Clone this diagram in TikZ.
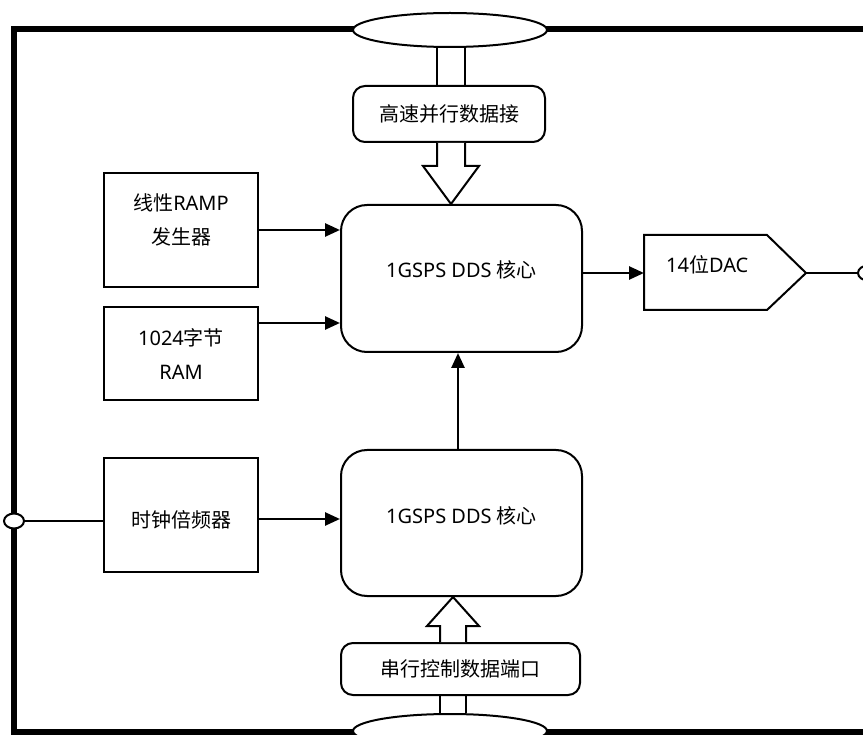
\documentclass[tikz,border=0pt]{standalone}
\usepackage{fontspec}
\setmainfont{Noto Sans}
\newfontfamily\cjkf{Noto Sans CJK SC}
\newcommand{\zh}[1]{{\cjkf #1}}
\usetikzlibrary{arrows.meta,shapes.geometric}
\tikzset{
  box/.style={draw, line width=2pt, fill=white, inner sep=0pt},
  rbox/.style={box, rounded corners=12pt},
  core/.style={box, rounded corners=26pt},
  lbl/.style={font=\fontsize{20}{34}\selectfont, align=center, inner sep=0pt},
  conn/.style={line width=2.6pt, -{Triangle[length=15pt,width=13pt]}},
  thin/.style={line width=2pt},
  frame/.style={line width=6pt},
  port/.style={draw, line width=2pt, fill=white, ellipse, inner sep=0pt},
  blockarrow/.style={line width=2pt, fill=white, line join=miter}
}
\begin{document}
\begin{tikzpicture}[x=1pt,y=-1pt]
\useasboundingbox (0,0) rectangle (863,735);
\begin{scope}
\clip (0,0) rectangle (863,735);
% frame
\draw[frame] (890,29.5) -- (14,29.5) -- (14,731.5) -- (890,731.5);
% ports
\node[port, minimum width=194pt, minimum height=34pt] (ptop) at (450,30) {};
\node[port, minimum width=194pt, minimum height=34pt] (pbot) at (450,731) {};
\node[port, minimum width=20pt, minimum height=15pt] (pleft) at (14,521) {};
\node[port, minimum width=20pt, minimum height=15pt] (pright) at (868,273) {};

% boxes
\node[rbox, minimum width=192pt, minimum height=56pt] (hs) at (449,114) {};
\node[lbl] (hst) at (449,114) {\zh{高速并行数据接}};
\node[rbox, minimum width=239pt, minimum height=52pt] (sc) at (460.5,669) {};
\node[lbl] (sct) at (460.5,669) {\zh{串行控制数据端口}};

\node[core, minimum width=241pt, minimum height=147pt] (core1) at (461.5,278.5) {};
\node[lbl] (c1t) at (461.5,270) {1GSPS DDS \zh{核心}};
\node[core, minimum width=241pt, minimum height=146pt] (core2) at (461.5,523) {};
\node[lbl] (c2t) at (461.5,516) {1GSPS DDS \zh{核心}};

\node[box, minimum width=154pt, minimum height=114pt] (ramp) at (181,230) {};
\node[lbl] (rampt) at (181,220) {\zh{线性}RAMP\\\zh{发生器}};
\node[box, minimum width=154pt, minimum height=93pt] (ram) at (181,353.5) {};
\node[lbl] (ramt) at (181,354) {1024\zh{字节}\\RAM};
\node[box, minimum width=154pt, minimum height=114pt] (clk) at (181,515) {};
\node[lbl] (clkt) at (181,520) {\zh{时钟倍频器}};

% DAC
\coordinate (dacw) at (644,273);
\coordinate (dace) at (806,273);
\draw[thin, fill=white] (644,235) -- (767,235) -- (dace) -- (767,310) -- (644,310) -- cycle;
\node[lbl, anchor=west] (dact) at (666,265) {14\zh{位}DAC};

% connectors
\draw[conn] (ramp.east) -- (core1.west |- ramp.east);
\draw[conn] (ram.east |- 0,323) -- (core1.west |- 0,323);
\draw[conn] (clk.east |- 0,519) -- (core2.west |- 0,519);
\draw[conn] (core2.north -| 458,0) -- (core1.south -| 458,0);
\draw[conn] (core1.east |- dacw) -- (dacw);
\draw[thin] (dace) -- (pright.west);
\draw[thin] (pleft.east) -- (clk.west |- pleft.east);

% top double-line arrow
\draw[thin] (ptop.south -| 437,0) -- (hs.north -| 437,0);
\draw[thin] (ptop.south -| 465,0) -- (hs.north -| 465,0);
\draw[blockarrow] (hs.south -| 437,0) -- (437,166) -- (423,166) -- (core1.north -| 451,0) -- (479,166) -- (465,166) -- (hs.south -| 465,0);

% bottom double-line arrow
\draw[thin] (pbot.north -| 440,0) -- (sc.south -| 440,0);
\draw[thin] (pbot.north -| 466,0) -- (sc.south -| 466,0);
\draw[blockarrow] (sc.north -| 440,0) -- (440,626) -- (427,626) -- (core2.south -| 453,0) -- (479,626) -- (466,626) -- (sc.north -| 466,0);
\end{scope}
\end{tikzpicture}
\end{document}
